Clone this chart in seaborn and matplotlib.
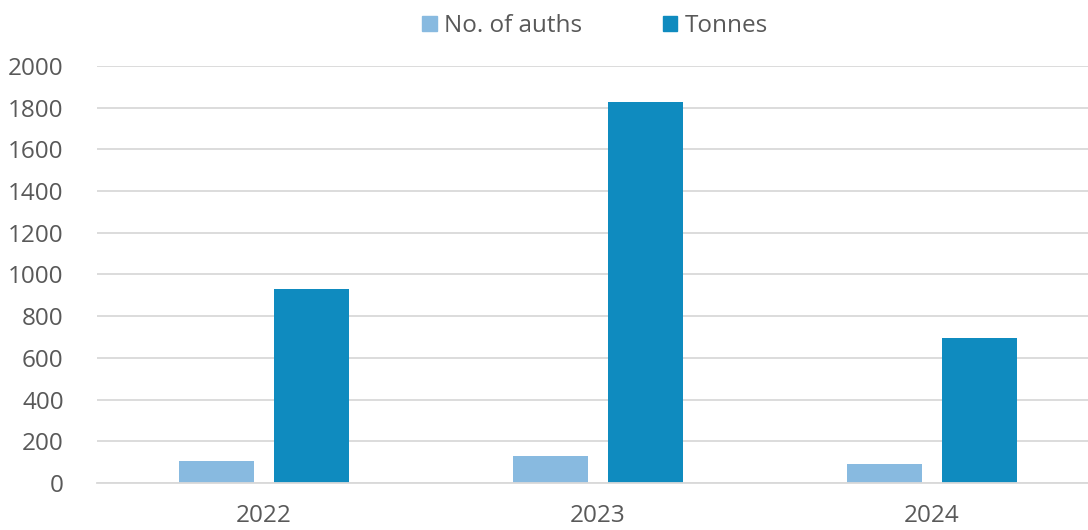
import pandas as pd
import matplotlib
matplotlib.use('Agg')
import matplotlib.pyplot as plt
import seaborn as sns

years = ['2022', '2023', '2024']
auths = [105, 130, 92]
tonnes = [930, 1825, 697]

series_names = ['No. of auths', 'Tonnes']
colors = ['#88BAE0', '#0F8BBF']

df = pd.DataFrame({
    'year': years * 2,
    'value': auths + tonnes,
    'series': [series_names[0]] * 3 + [series_names[1]] * 3,
})

sns.set_style('white')
plt.rcParams['font.family'] = ['Open Sans', 'DejaVu Sans']
text_color = '#595959'

fig = plt.figure(figsize=(10.88, 5.30), dpi=100)
ax = fig.add_axes([0.0892, 0.0887, 0.921, 0.787])

sns.barplot(data=df, x='year', y='value', hue='series', palette=colors,
            width=0.569, gap=0.21, ax=ax, legend=False, saturation=1,
            linewidth=0)

ax.set_ylim(0, 2000)
ax.set_xlim(-0.5, 2.5)
ax.set_yticks(range(0, 2001, 200))
ax.yaxis.grid(True, color='#D9D9D9', linewidth=1.3)
ax.set_axisbelow(True)
for s in ['top', 'right', 'left']:
    ax.spines[s].set_visible(False)
ax.spines['bottom'].set_color('#D9D9D9')
ax.spines['bottom'].set_linewidth(1.3)
ax.tick_params(axis='both', length=0, labelsize=17.5, labelcolor=text_color)
ax.tick_params(axis='y', pad=24)
ax.tick_params(axis='x', pad=15)
ax.set_xlabel('')
ax.set_ylabel('')

handles = [plt.Rectangle((0, 0), 1, 1, color=c) for c in colors]
fig.legend(handles, series_names, loc='upper center', bbox_to_anchor=(0.547, 1.015),
           ncol=2, frameon=False, fontsize=17.5, labelcolor=text_color,
           handlelength=0.6, handleheight=0.6, handletextpad=0.3, columnspacing=3.3)

plt.savefig('out.png', dpi=100)
